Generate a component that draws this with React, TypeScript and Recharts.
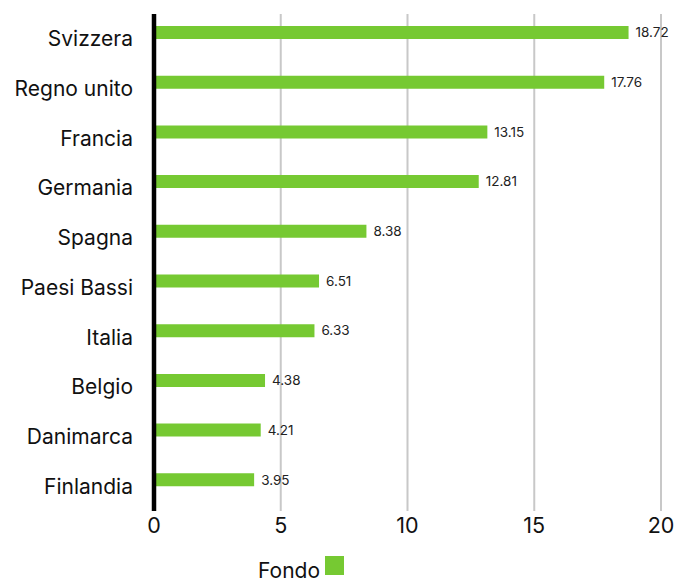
import React from 'react';
import {
  BarChart,
  Bar,
  XAxis,
  YAxis,
  CartesianGrid,
  LabelList,
  Legend
} from 'recharts';

const countries = [
  'Svizzera',
  'Regno unito',
  'Francia',
  'Germania',
  'Spagna',
  'Paesi Bassi',
  'Italia',
  'Belgio',
  'Danimarca',
  'Finlandia'
];
const fondo = [18.72, 17.76, 13.15, 12.81, 8.38, 6.51, 6.33, 4.38, 4.21, 3.95];
const xTicks = [0, 5, 10, 15, 20];

const data = countries.map((name, i) => ({ name, fondo: fondo[i] }));

const FONT = 'Inter, "Noto Sans", sans-serif';
const GREEN = '#76c932';

const renderLegend = () => (
  <div style={{ display: 'flex', alignItems: 'flex-start', paddingLeft: 258, fontFamily: FONT }}>
    <span style={{ fontSize: 21, color: '#111', lineHeight: '26px', marginTop: 2 }}>Fondo</span>
    <span style={{ width: 19, height: 19, background: GREEN, marginLeft: 5 }} />
  </div>
);

const App: React.FC = () => {
  return (
    <div style={{ position: 'absolute', left: 0, top: 0, fontFamily: FONT }}>
      <BarChart
        width={676}
        height={579}
        data={data}
        layout="vertical"
        barGap={0}
        margin={{ top: 14, right: 15, bottom: 38, left: 0 }}
      >
        <CartesianGrid horizontal={false} stroke="#c8c8c8" strokeWidth={2} />
        <XAxis
          type="number"
          domain={[0, 20]}
          ticks={xTicks}
          axisLine={false}
          tickLine={false}
          tickMargin={1}
          height={30}
          tick={{ fill: '#111', fontSize: 21.5, fontFamily: FONT }}
        />
        <YAxis
          type="category"
          dataKey="name"
          width={154}
          axisLine={{ stroke: '#000', strokeWidth: 4.5 }}
          tickLine={false}
          tickMargin={15}
          tick={{ fill: '#111', fontSize: 21, fontFamily: FONT }}
        />
        <Bar dataKey="fondo" name="Fondo" fill={GREEN} barSize={13} isAnimationActive={false}>
          <LabelList
            dataKey="fondo"
            position="right"
            offset={7}
            style={{ fill: '#222', fontSize: 13.5, fontFamily: FONT }}
          />
        </Bar>
        <Bar dataKey="indice" name="Indice" fill="#000" barSize={13} legendType="none" isAnimationActive={false} />
        <Legend
          verticalAlign="middle"
          align="center"
          layout="horizontal"
          content={renderLegend}
          wrapperStyle={{ top: 556, left: 0, width: 676 }}
        />
      </BarChart>
    </div>
  );
};

export default App;
